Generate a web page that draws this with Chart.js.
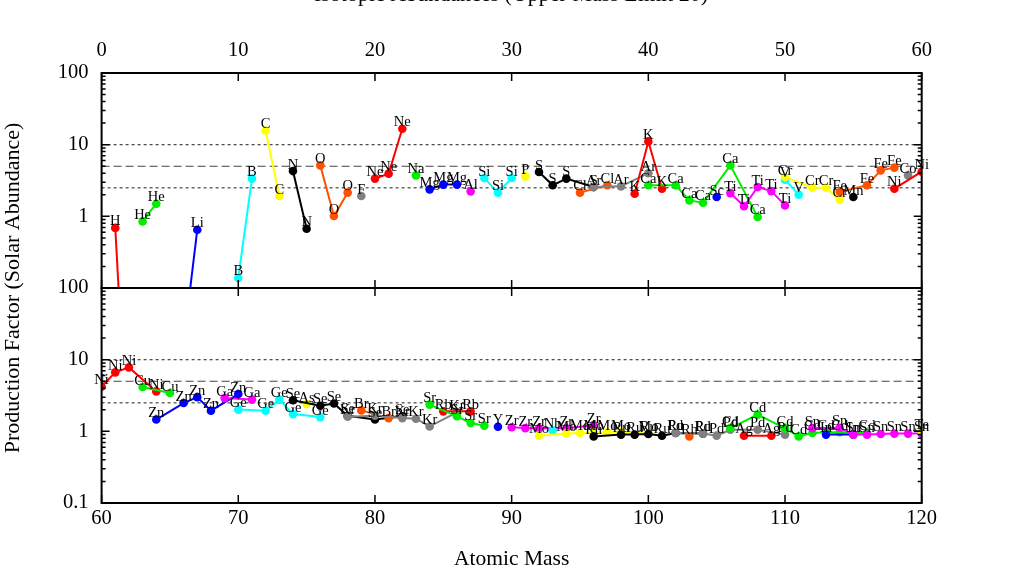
<!DOCTYPE html>
<html>
<head>
<meta charset="utf-8">
<script src="https://cdn.jsdelivr.net/npm/chart.js@4.4.1/dist/chart.umd.min.js"></script>
<style>
  html, body { margin: 0; padding: 0; background: #fff; }
  #myChart { display: block; }
</style>
</head>
<body>
<canvas id="myChart" width="1024" height="575"></canvas>
<script>
// elements in order of Z (Tc has no stable isotope, so it is not in the list)
const elements = ['H','He','Li','Be','B','C','N','O','F','Ne','Na','Mg','Al','Si','P','S','Cl','Ar',
  'K','Ca','Sc','Ti','V','Cr','Mn','Fe','Co','Ni','Cu','Zn','Ga','Ge','As','Se','Br','Kr',
  'Rb','Sr','Y','Zr','Nb','Mo','Ru','Rh','Pd','Ag','Cd','In','Sn','Sb','Te'];

// isotope masses for each element
const masses = [
  [1,2], [3,4], [6,7], [], [10,11], [12,13], [14,15], [16,17,18], [19],
  [20,21,22], [23], [24,25,26], [27], [28,29,30], [31], [32,33,34,36], [35,37], [36,38,40],
  [39,40,41], [40,42,43,44,46,48], [45], [46,47,48,49,50], [50,51], [50,52,53,54], [55], [54,56,57,58], [59],
  [58,60,61,62,64], [63,65], [64,66,67,68,70], [69,71], [70,72,73,74,76], [75], [74,76,77,78,80,82], [79,81], [78,80,82,83,84,86],
  [85,87], [84,86,87,88], [89], [90,91,92,94,96], [93], [92,94,95,96,97,98,100], [96,98,99,100,101,102,104], [103], [102,104,105,106,108,110],
  [107,109], [106,108,110,111,112,113,114,116], [113,115], [112,114,115,116,117,118,119,120], [], [120]
];

// production factors, same layout as masses
const factors = [
  [0.69, 0.00023], [0.85, 1.5], [0.017, 0.65], [], [0.138, 3.36], [15.8, 1.92], [4.28, 0.67], [5.14, 1.01, 2.14], [1.92],
  [3.36, 3.94, 16.7], [3.73], [2.38, 2.77, 2.77], [2.23], [3.42, 2.14, 3.42], [3.61], [4.15, 2.71, 3.36, 2.56], [2.14, 2.71], [2.56, 2.62, 4.0],
  [2.07, 11.1, 2.43], [2.71, 2.71, 1.67, 1.55, 5.14, 0.98], [1.86], [2.11, 1.38, 2.56, 2.25, 1.42], [3.25, 2.01], [3.53, 2.51, 2.51, 1.71], [1.86], [2.18, 2.71, 4.38, 4.78], [3.73],
  [2.43, 4.2, 6.65, 7.8, 3.61], [4.15, 3.42], [1.46, 2.48, 3.0, 1.94, 3.31], [2.91, 2.77], [2.01, 1.94, 2.77, 1.74, 1.58], [2.4], [2.71, 2.28, 2.45, 1.65, 1.46, 1.62], [1.96, 1.53], [1.6, 1.65, 1.53, 1.5, 1.17, 1.84],
  [1.9, 1.9], [2.36, 1.62, 1.31, 1.2], [1.16], [1.14, 1.11, 1.1, 1.1, 1.22], [1.03], [0.87, 0.93, 0.95, 0.97, 0.97, 0.97, 0.93], [0.85, 0.9, 0.9, 0.92, 0.87, 0.95, 0.93], [0.85], [0.95, 0.93, 0.87, 1.05, 1.05, 0.9],
  [0.87, 0.87], [1.11, 1.71, 1.1, 0.85, 0.95, 0.97, 0.97, 0.95], [0.9, 0.9], [1.11, 1.12, 0.9, 0.9, 0.92, 0.93, 0.93, 0.93], [], [1.0]
];

// reference levels (dotted / dashed / dotted)
const refLevels = [10, 5, 2.5];
const yTicks = [0.1, 1, 10, 100];
const xTopRange = [0, 60];
const xBotRange = [60, 120];

const palette = ['#ff0000', '#00ee00', '#0000ff', '#ff00ff', '#00ffff', '#ffff00', '#000000', '#ff5000', '#808080'];
const refDash = [[3, 3], [8, 4], [3, 3]];

Chart.defaults.font.family = "'Liberation Serif', 'DejaVu Serif', serif";
Chart.defaults.font.size = 20.5;
Chart.defaults.color = '#000';

const panels = [
  {x: 'xTop', y: 'yTop', range: xTopRange},
  {x: 'xBot', y: 'yBot', range: xBotRange}
];

// one line per element per panel
let datasets = [];
for (let i = 0; i < elements.length; i++) {
  panels.forEach(p => {
    let pts = [];
    for (let j = 0; j < masses[i].length; j++) {
      if (masses[i][j] >= p.range[0] && masses[i][j] <= p.range[1]) {
        pts.push({x: masses[i][j], y: factors[i][j]});
      }
    }
    if (!pts.length) return;
    const col = palette[i % palette.length];
    datasets.push({
      isoLabel: elements[i],
      data: pts,
      xAxisID: p.x,
      yAxisID: p.y,
      borderColor: col,
      backgroundColor: col,
      borderWidth: 2,
      pointRadius: 4.3,
      pointHoverRadius: 4.3,
      pointBorderWidth: 0,
      order: -i
    });
  });
}

// horizontal reference lines in both panels
refLevels.forEach((lvl, k) => {
  panels.forEach(p => {
    datasets.push({
      data: [{x: p.range[0], y: lvl}, {x: p.range[1], y: lvl}],
      xAxisID: p.x,
      yAxisID: p.y,
      borderColor: '#444',
      borderWidth: 1.2,
      borderDash: refDash[k],
      pointRadius: 0,
      order: 1000
    });
  });
});

// element symbols above each point
const isoLabels = {
  id: 'isoLabels',
  afterDatasetsDraw(chart) {
    const ctx = chart.ctx;
    ctx.save();
    ctx.font = "14.5px 'Liberation Serif', serif";
    ctx.textAlign = 'center';
    ctx.textBaseline = 'alphabetic';
    ctx.fillStyle = '#000';
    chart.data.datasets.forEach((ds, i) => {
      if (!ds.isoLabel) return;
      const ys = chart.scales[ds.yAxisID];
      const meta = chart.getDatasetMeta(i);
      meta.data.forEach((pt, j) => {
        const v = ds.data[j].y;
        if (v < ys.min || v > ys.max) return;
        ctx.fillText(ds.isoLabel, pt.x, pt.y - 2.5);
      });
    });
    ctx.restore();
  }
};

// frames, inward ticks and titles
const frame = {
  id: 'frame',
  afterDraw(chart) {
    const ctx = chart.ctx;
    ctx.save();
    ctx.strokeStyle = '#000';
    panels.forEach(p => {
      const xs = chart.scales[p.x];
      const ys = chart.scales[p.y];
      ctx.lineWidth = 1.5;
      ctx.beginPath();
      for (let v = xs.min; v <= xs.max; v += 10) {
        const px = xs.getPixelForValue(v);
        ctx.moveTo(px, ys.top); ctx.lineTo(px, ys.top + 8);
        ctx.moveTo(px, ys.bottom); ctx.lineTo(px, ys.bottom - 8);
      }
      for (let d = 0.1; d < ys.max * 1.01; d *= 10) {
        for (let k = 1; k <= 9; k++) {
          const v = d * k;
          if (v > ys.max * 1.001) break;
          const py = ys.getPixelForValue(v);
          const len = k === 1 ? 8 : 4;
          ctx.moveTo(xs.left, py); ctx.lineTo(xs.left + len, py);
          ctx.moveTo(xs.right, py); ctx.lineTo(xs.right - len, py);
        }
      }
      ctx.stroke();
      ctx.lineWidth = 2;
      ctx.strokeRect(xs.left, ys.top, xs.right - xs.left, ys.bottom - ys.top);
    });

    ctx.fillStyle = '#000';
    ctx.font = "22px 'Liberation Serif', serif";
    ctx.textAlign = 'center';
    ctx.textBaseline = 'alphabetic';
    ctx.fillText('Isotopic Abundances (Upper Mass Limit 20)', 511, 1);

    const a = chart.chartArea;
    ctx.translate(13, (a.top + a.bottom) / 2);
    ctx.rotate(-Math.PI / 2);
    ctx.textBaseline = 'middle';
    ctx.fillText('Production Factor (Solar Abundance)', 0, 0);
    ctx.restore();
  }
};

function logScale(hideBottom) {
  return {
    type: 'logarithmic',
    position: 'left',
    stack: 'panels',
    stackWeight: 1,
    min: 0.1,
    max: 100,
    grid: {display: false, drawTicks: false},
    border: {display: false},
    afterBuildTicks: s => { s.ticks = yTicks.map(v => ({value: v})) },
    ticks: {
      autoSkip: false,
      padding: 13,
      callback: v => (hideBottom && v < 1) ? '' : String(v)
    },
    afterFit: s => { s.width = 101.6 }
  };
}

var ctx = document.getElementById('myChart').getContext('2d');
var chart = new Chart(ctx, {
  type: 'line',
  data: { datasets },
  options: {
    responsive: false,
    animation: false,
    devicePixelRatio: 1,
    layout: { padding: {left: 0, right: 102.3, top: 0, bottom: 0} },
    plugins: { legend: {display: false}, tooltip: {enabled: false}, title: {display: false} },
    scales: {
      xTop: {
        type: 'linear', position: 'top', min: xTopRange[0], max: xTopRange[1],
        grid: {display: false, drawTicks: false}, border: {display: false},
        ticks: {stepSize: 10, padding: 10},
        afterFit: s => { s.height = 73 }
      },
      xBot: {
        type: 'linear', position: 'bottom', min: xBotRange[0], max: xBotRange[1],
        grid: {display: false, drawTicks: false}, border: {display: false},
        ticks: {stepSize: 10, padding: 3},
        title: {display: true, text: 'Atomic Mass', font: {size: 21.5}, padding: {top: 4, bottom: 3}},
        afterFit: s => { s.height = 72 }
      },
      yBot: logScale(false),
      yTop: logScale(true)
    }
  },
  plugins: [isoLabels, frame]
});
</script>
</body>
</html>
